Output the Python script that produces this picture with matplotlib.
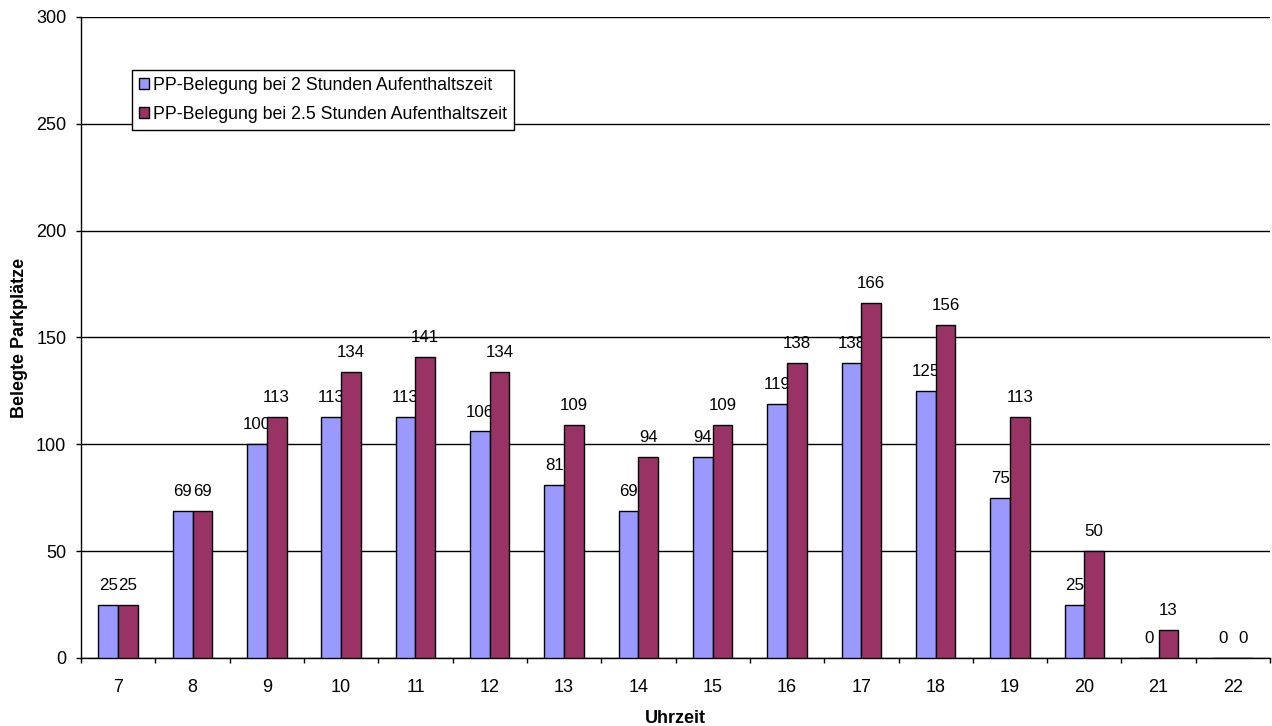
import numpy as np
import matplotlib.pyplot as plt
from matplotlib.ticker import FixedLocator

plt.rcParams["font.family"] = ["Liberation Sans", "DejaVu Sans"]

# Data
hours = [7, 8, 9, 10, 11, 12, 13, 14, 15, 16, 17, 18, 19, 20, 21, 22]
belegung_2h = [25, 69, 100, 113, 113, 106, 81, 69, 94, 119, 138, 125, 75, 25, 0, 0]
belegung_25h = [25, 69, 113, 134, 141, 134, 109, 94, 109, 138, 166, 156, 113, 50, 13, 0]
labels = ["PP-Belegung bei 2 Stunden Aufenthaltszeit",
          "PP-Belegung bei 2.5 Stunden Aufenthaltszeit"]

BLUE = "#9999FF"
PURPLE = "#993366"
FS = 13

fig = plt.figure(figsize=(12.72, 7.26), dpi=100)
ax = fig.add_axes([0.0637, 0.0937, 0.9348, 0.8829])

x = np.arange(len(hours))
w = 0.265
b1 = ax.bar(x - w / 2, belegung_2h, w, color=BLUE, edgecolor="black", linewidth=1.0,
            label=labels[0], zorder=3)
b2 = ax.bar(x + w / 2, belegung_25h, w, color=PURPLE, edgecolor="black", linewidth=1.0,
            label=labels[1], zorder=3)

# value labels above each bar (kept under the bars, like the original export)
for bars, vals in ((b1, belegung_2h), (b2, belegung_25h)):
    for rect, v in zip(bars, vals):
        ax.annotate(str(v), (rect.get_x() + rect.get_width() / 2, v),
                    xytext=(0, 14), textcoords="offset points",
                    ha="center", va="center", fontsize=12.2, zorder=2.5)

ax.set_xlim(-0.5, len(hours) - 0.5)
ax.set_ylim(0, 300)
ax.set_yticks(range(0, 301, 50))
ax.yaxis.grid(True, color="black", linewidth=1.0, zorder=0)
ax.set_axisbelow(True)

ax.set_xticks(x)
ax.set_xticklabels([str(h) for h in hours])
ax.xaxis.set_minor_locator(FixedLocator(np.arange(-0.5, len(hours), 1.0)))
ax.tick_params(axis="x", which="major", length=0, pad=15, labelsize=FS)
ax.tick_params(axis="x", which="minor", length=3.6, width=1, direction="out")
ax.tick_params(axis="y", length=3.6, width=1, pad=7, labelsize=FS)

for side in ("top", "right"):
    ax.spines[side].set_visible(False)
ax.spines["left"].set_linewidth(1.0)
ax.spines["bottom"].set_linewidth(1.0)

ax.set_ylabel("Belegte Parkplätze", fontsize=FS, fontweight="bold", labelpad=6)
ax.set_xlabel("Uhrzeit", fontsize=FS, fontweight="bold", labelpad=10)

leg = ax.legend(loc="upper left", bbox_to_anchor=(0.0427, 0.917), fontsize=12.8,
                frameon=True, fancybox=False, framealpha=1, edgecolor="black",
                handlelength=0.6, handleheight=0.6, handletextpad=0.2,
                borderpad=0.38, labelspacing=0.68, borderaxespad=0)
leg.get_frame().set_linewidth(1.0)
leg.set_zorder(5)

fig.savefig("out.png", dpi=100)
